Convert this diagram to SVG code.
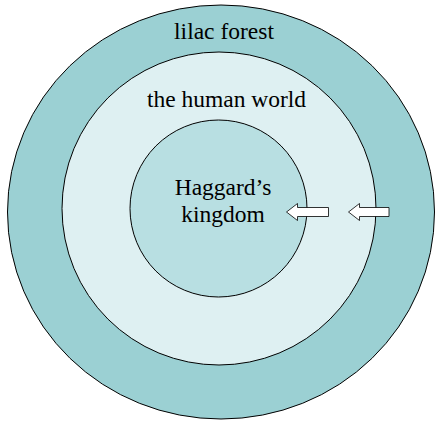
<svg xmlns="http://www.w3.org/2000/svg" width="435" height="422" viewBox="0 0 435 422">
<style>
.ring{stroke:#000;stroke-width:1}
.lbl{font-family:'Liberation Serif','Times New Roman',Times,serif;font-size:23.5px;fill:#000;text-anchor:middle}
.arr{fill:#fff;stroke:#000;stroke-width:0.8;stroke-linejoin:miter}
</style>
<rect width="435" height="422" fill="#fff"/>
<g id="lilac-forest">
<ellipse class="ring" cx="221" cy="212" rx="213.5" ry="207" fill="#9BD0D3"/>
<text class="lbl" x="224" y="38.5" font-family="Liberation Serif, serif" font-size="24">lilac forest</text>
</g>
<g id="human-world">
<ellipse class="ring" cx="219" cy="208.5" rx="157" ry="156.5" fill="#DEF0F2"/>
<text class="lbl" x="226.5" y="106.5" font-family="Liberation Serif, serif">the human world</text>
</g>
<g id="haggards-kingdom">
<circle class="ring" cx="218.5" cy="208.5" r="88.5" fill="#B8DFE2"/>
<text class="lbl" x="223" y="195" font-family="Liberation Serif, serif">Haggard’s</text>
<text class="lbl" x="223" y="222" font-family="Liberation Serif, serif">kingdom</text>
</g>
<g id="connectors">
<polygon class="arr" points="286.5,212 297.5,203.5 297.5,207.5 328.5,207.5 328.5,216.5 297.5,216.5 297.5,220.5"/>
<polygon class="arr" points="348.5,212 359.5,203.5 359.5,207.5 389,207.5 389,216.5 359.5,216.5 359.5,220.5"/>
</g>
</svg>
